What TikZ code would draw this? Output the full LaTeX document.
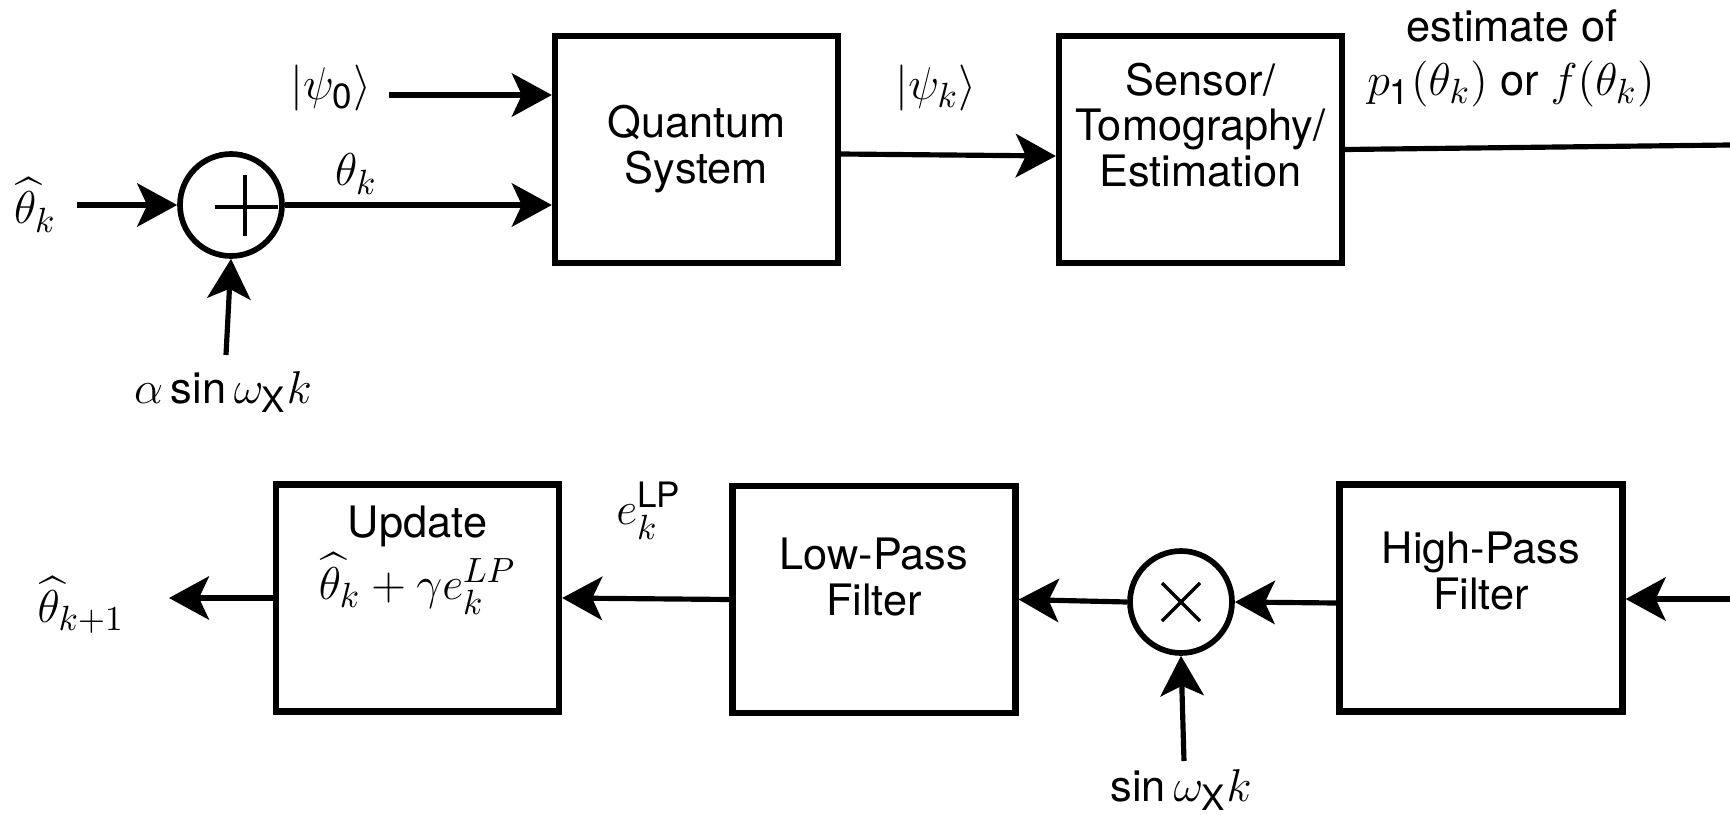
\RequirePackage{fix-cm}
\documentclass[tikz,border=0pt]{standalone}
\usepackage{amsmath}
\usepackage[no-math]{fontspec}
\setmainfont{TeX Gyre Heros}
\DeclareMathSizes{13}{13.8}{10.5}{8}
\usetikzlibrary{arrows.meta}
\begin{document}
\begin{tikzpicture}[x=0.3pt,y=-0.3pt,
  font=\fontsize{13}{13.6}\selectfont,
  blk/.style={draw, line width=1.9pt, inner sep=0pt, minimum width=84.9pt, minimum height=68.1pt},
  txt/.style={align=center, inner sep=0pt},
  lbl/.style={inner sep=0pt},
  sig/.style={line width=1.55pt, -{Stealth[length=12pt,width=13pt,inset=3pt]}},
  wire/.style={line width=1.55pt},
  junc/.style={draw, circle, line width=1.7pt, minimum size=30.6pt, inner sep=0pt}]
\useasboundingbox (0,0) rectangle (1730,815);

% top row
\node[blk] (qs) at (696.5,149.5) {};
\node[txt] (qst) at (696.5,149) {Quantum\\System};
\node[blk] (ste) at (1200.5,149.5) {};
\node[txt] (stet) at (1200.5,125) {Sensor/\\Tomography/\\Estimation};
\node[junc] (sum) at (231,205) {};
\draw[line width=1.3pt] (215,207) -- (278,207);
\draw[line width=1.3pt] (245,175) -- (245,236);

\node[lbl] (thk) at (35,205) {$\widehat{\theta}_k$};
\coordinate (thkS) at (77,205);
\draw[sig] (thkS) -- (sum.west);

\node[lbl] (psi0) at (331,88) {$|\psi_{\text{0}}\rangle$};
\coordinate (psi0S) at (389,95);
\draw[sig] (psi0S) -- (psi0S -| qs.west);

\node[lbl] (thetak) at (356,174) {$\theta_k$};
\draw[sig] (sum.east) -- (sum.east -| qs.west);

\node[lbl] (asin) at (223,392) {$\alpha\,\text{sin}\,\omega_{\text{X}}k$};
\coordinate (asinS) at (226,355);
\draw[sig] (asinS) -- (sum.south);

\node[lbl] (psik) at (936,88) {$|\psi_k\rangle$};
\draw[sig] ([yshift=-1.35pt]qs.east) -- ([yshift=-1.95pt]ste.west);

\node[txt] (est) at (1512,26) {estimate of};
\node[txt] (p1) at (1511,84) {$p_{\text{1}}(\theta_k)$ or $f(\theta_k)$};
\coordinate (outR) at (1730,145);
\draw[wire] (ste.east) -- (outR);

% bottom row
\node[blk] (upd) at (417.5,598) {};
\node[txt] (updt) at (417.5,560) {Update\\[1pt]$\widehat{\theta}_k+\gamma e_k^{LP}$};
\node[blk] (lp) at (874,599.5) {};
\node[txt] (lpt) at (874,577) {Low-Pass\\Filter};
\node[blk] (hp) at (1481,598) {};
\node[txt] (hpt) at (1481,571) {High-Pass\\Filter};
\node[junc] (mul) at (1181,602) {};
\draw[line width=1pt] (mul.center) ++(-19,-19) -- ++(38,38);
\draw[line width=1pt] (mul.center) ++(-19,19) -- ++(38,-38);

\coordinate (inR) at (1730,599);
\draw[sig] (inR) -- (inR -| hp.east);
\draw[sig] ([yshift=-1.5pt]hp.west) -- (mul.east);
\draw[sig] (mul.west) -- (lp.east);

\node[lbl] (sinl) at (1181,790) {$\text{sin}\,\omega_{\text{X}}k$};
\coordinate (sinS) at (1184,761);
\draw[sig] (sinS) -- (mul.south);

\node[lbl] (elp) at (649,511) {$e_k^{\text{LP}}$};
\draw[sig] (lp.west) -- (upd.east);

\node[lbl] (thk1) at (81,605) {$\widehat{\theta}_{k+1}$};
\coordinate (outL) at (169,598);
\draw[sig] (upd.west) -- (outL);
\end{tikzpicture}
\end{document}
